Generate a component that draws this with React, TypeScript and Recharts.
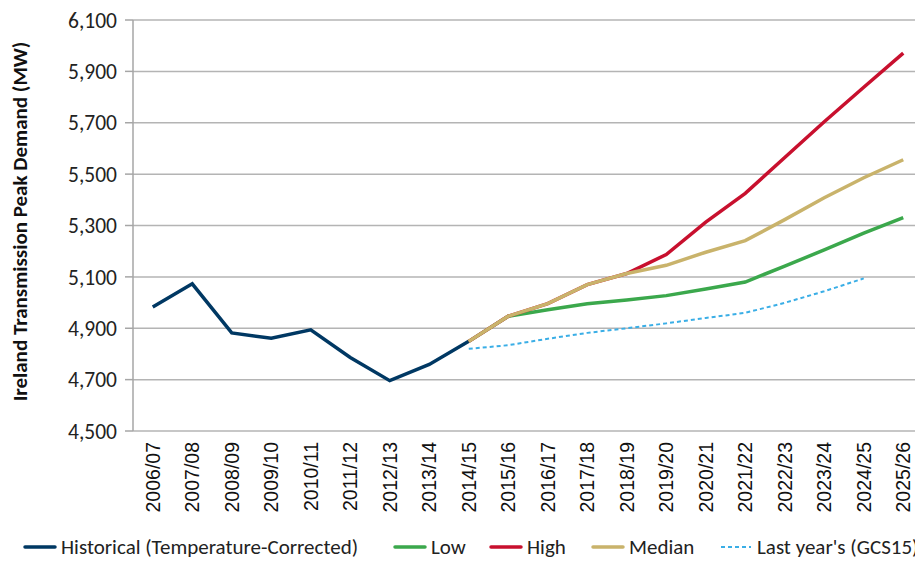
import React from 'react';
import { LineChart, Line, XAxis, YAxis, CartesianGrid, Legend } from 'recharts';

const categories = ['2006/07','2007/08','2008/09','2009/10','2010/11','2011/12','2012/13','2013/14','2014/15','2015/16','2016/17','2017/18','2018/19','2019/20','2020/21','2021/22','2022/23','2023/24','2024/25','2025/26'];
const historical: (number | null)[] = [4983, 5073, 4882, 4861, 4894, 4786, 4696, 4759, 4849, null, null, null, null, null, null, null, null, null, null, null];
const low: (number | null)[] = [null, null, null, null, null, null, null, null, 4849, 4947, 4972, 4995, 5010, 5027, 5053, 5080, 5142, 5205, 5270, 5331];
const high: (number | null)[] = [null, null, null, null, null, null, null, null, 4849, 4947, 4996, 5070, 5113, 5187, 5313, 5425, 5565, 5704, 5838, 5971];
const median: (number | null)[] = [null, null, null, null, null, null, null, null, 4849, 4947, 4996, 5070, 5113, 5145, 5196, 5241, 5323, 5408, 5486, 5556];
const lastYear: (number | null)[] = [null, null, null, null, null, null, null, null, 4820, 4834, 4859, 4882, 4900, 4919, 4940, 4960, 4999, 5044, 5094, null];
const yTicks = [4500, 4700, 4900, 5100, 5300, 5500, 5700, 5900, 6100];
const boundaryTicks = Array.from({ length: categories.length + 1 }, (_, i) => i);

const data = categories.map((c, i) => ({
  cat: c,
  historical: historical[i],
  low: low[i],
  high: high[i],
  median: median[i],
  lastYear: lastYear[i],
}));

const legendItems = [
  { label: 'Historical (Temperature-Corrected)', color: '#003863', dash: false, left: 23 },
  { label: 'Low', color: '#3BA84C', dash: false, left: 393 },
  { label: 'High', color: '#C8102E', dash: false, left: 489 },
  { label: 'Median', color: '#C9B36B', dash: false, left: 591 },
  { label: "Last year's (GCS15)", color: '#3AAEE6', dash: true, left: 719 },
];

const calib = "Carlito, 'Open Sans', sans-serif";

const XTick = (props: any) => {
  const { x, y, payload } = props;
  return (
    <g transform={`translate(${x},${y + 11})`}>
      <text transform="rotate(-90)" textAnchor="end" dy="0.36em" fontSize={19.5} fontFamily="'Liberation Sans', Arial, sans-serif" fill="#111">
        {payload.value}
      </text>
    </g>
  );
};

const LegendContent = () => (
  <div style={{ position: 'relative', height: 37, fontFamily: calib, fontSize: 21, color: '#222', whiteSpace: 'nowrap' }}>
    {legendItems.map((it, i) => (
      <div key={i} style={{ position: 'absolute', left: it.left, top: 6, height: 30, display: 'flex', alignItems: 'center' }}>
        <svg width={34} height={8} style={{ marginRight: 4 }}>
          <line x1={2} y1={4} x2={32} y2={4} stroke={it.color} strokeWidth={it.dash ? 2 : 3.5} strokeDasharray={it.dash ? '4 3' : undefined} strokeLinecap={it.dash ? 'butt' : 'round'} />
        </svg>
        <span>{it.label}</span>
      </div>
    ))}
  </div>
);

export default function App() {
  return (
    <div style={{ marginLeft: -8, marginTop: -8, width: 923, height: 563, background: '#fff' }}>
      <LineChart width={923} height={563} data={data} margin={{ top: 20, right: 0, bottom: 0, left: 0 }}>
        <CartesianGrid xAxisId="a" vertical={false} stroke="#b4b4b4" strokeWidth={1.5} />
        <XAxis xAxisId="b" type="number" domain={[0, categories.length]} ticks={boundaryTicks} tick={false} tickSize={7} axisLine={{ stroke: '#a6a6a6', strokeWidth: 1.5 }} tickLine={{ stroke: '#a6a6a6', strokeWidth: 1.5 }} height={0} allowDataOverflow />
        <XAxis xAxisId="a" dataKey="cat" scale="band" interval={0} tick={<XTick />} tickLine={false} axisLine={false} tickSize={0} tickMargin={0} height={95} />
        <YAxis
          domain={[4500, 6100]}
          ticks={yTicks}
          width={133}
          tickSize={8}
          tickMargin={8}
          tickFormatter={(v: number) => v.toLocaleString('en-US')}
          tick={{ fontSize: 21.5, fill: '#222', fontFamily: calib }}
          axisLine={{ stroke: '#a6a6a6', strokeWidth: 1.5 }}
          tickLine={{ stroke: '#a6a6a6', strokeWidth: 1.5 }}
          label={{
            content: (p: any) => {
              const vb = p.viewBox;
              const cx = 20;
              const cy = vb.y + vb.height / 2 - 4;
              return (
                <text x={cx} y={cy} transform={`rotate(-90, ${cx}, ${cy})`} textAnchor="middle" dominantBaseline="central" fontSize={21} fontWeight="bold" fontFamily={calib} fill="#111">
                  Ireland Transmission Peak Demand (MW)
                </text>
              );
            },
          }}
        />
        <Legend verticalAlign="bottom" content={<LegendContent />} />
        <Line xAxisId="a" dataKey="historical" stroke="#003863" strokeWidth={3.5} dot={false} isAnimationActive={false} />
        <Line xAxisId="a" dataKey="low" stroke="#3BA84C" strokeWidth={3.5} dot={false} isAnimationActive={false} />
        <Line xAxisId="a" dataKey="high" stroke="#C8102E" strokeWidth={3.5} dot={false} isAnimationActive={false} />
        <Line xAxisId="a" dataKey="median" stroke="#C9B36B" strokeWidth={3.5} dot={false} isAnimationActive={false} />
        <Line xAxisId="a" dataKey="lastYear" stroke="#3AAEE6" strokeWidth={2} strokeDasharray="4 3" dot={false} isAnimationActive={false} />
      </LineChart>
    </div>
  );
}
